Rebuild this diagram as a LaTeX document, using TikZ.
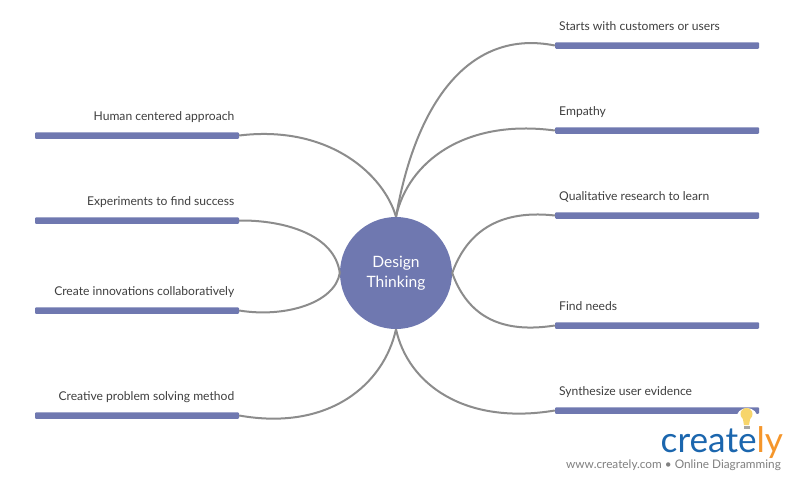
\documentclass[tikz,border=0pt]{standalone}
\usepackage{fontspec}
\setmainfont{Lato}
\definecolor{barc}{HTML}{6F78B0}
\definecolor{linec}{HTML}{8C8C8C}
\definecolor{textc}{HTML}{3F3F3F}
\definecolor{logob}{HTML}{1B66AE}
\definecolor{logoo}{HTML}{F5962B}
\definecolor{bulb}{HTML}{F7D56B}
\tikzset{
  barbox/.style={fill=barc,rounded corners=1pt,minimum width=204pt,minimum height=6.5pt,inner sep=0pt,draw=none},
  lab/.style={font=\fontsize{12.1}{13}\selectfont,text=textc,inner sep=0pt},
  lableft/.style={lab,anchor=base east},
  labright/.style={lab,anchor=base west},
  conn/.style={draw=linec,line width=2pt},
}
\begin{document}
\begin{tikzpicture}[x=1pt,y=-1pt]
\useasboundingbox (0,0) rectangle (795,480);
\fill[white] (0,0) rectangle (795,480);
% bars
\node[barbox] (r1) at (657,45.5) {};
\node[barbox] (r2) at (657,130.5) {};
\node[barbox] (r3) at (657,215.5) {};
\node[barbox] (r4) at (657,325.5) {};
\node[barbox] (r5) at (657,410.5) {};
\node[barbox] (l1) at (137,135.5) {};
\node[barbox] (l2) at (137,220.5) {};
\node[barbox] (l3) at (137,310.5) {};
\node[barbox] (l4) at (137,415.5) {};
% connectors
\path (r1.west) coordinate (r1w) (r2.west) coordinate (r2w) (r3.west) coordinate (r3w) (r4.west) coordinate (r4w) (r5.west) coordinate (r5w);
% hub
\node[circle,fill=barc,minimum size=112pt,inner sep=0pt,text=white,align=center,font=\fontsize{15.6}{20.5}\selectfont] (hub) at (396,273) {\raisebox{-1.5pt}{\shortstack{Design\\[3.2pt]Thinking}}};
\draw[conn] (r1w) .. controls +(-85,-17) and +(20,-115) .. (hub.north);
\draw[conn] (r2w) .. controls +(-90,-12) and +(12,-55) .. (hub.north);
\draw[conn] (r3w) .. controls +(-45,-5) and +(18,-50) .. (hub.east);
\draw[conn] (r4w) .. controls +(-45,7) and +(18,50) .. (hub.east);
\draw[conn] (r5w) .. controls +(-90,15) and +(12,55) .. (hub.south);
\draw[conn] (l1.east) .. controls +(90,-11) and +(-12,-42) .. (hub.north);
\draw[conn] (l2.east) .. controls +(46,-0.5) and +(-5,-38) .. (hub.west);
\draw[conn] (l3.east) .. controls +(46,7.5) and +(-5,30) .. (hub.west);
\draw[conn] (l4.east) .. controls +(90,16) and +(-12,55) .. (hub.south);
% labels
\node[labright] (tr1) at (559,30) {Starts with customers or users};
\node[labright] (tr2) at (559,115) {Empathy};
\node[labright] (tr3) at (559,200) {Qualitative research to learn};
\node[labright] (tr4) at (559,310) {Find needs};
\node[labright] (tr5) at (559,395) {Synthesize user evidence};
\node[lableft] (tl1) at (234.5,120) {Human centered approach};
\node[lableft] (tl2) at (234.5,205) {Experiments to find success};
\node[lableft] (tl3) at (234.5,295) {Create innovations collaboratively};
\node[lableft] (tl4) at (234.5,400) {Creative problem solving method};
% logo
\fill[white] (747,419) circle (11);
\node[inner sep=0pt,anchor=base west,font=\fontsize{35.2}{36}\selectfont,text=logob] (logo) at (660.5,452) {creat\textcolor{logob}{e}\textcolor{logoo}{ly}};
\fill[bulb] (746.5,414) circle (6) ;
\fill[bulb] (742.5,417) -- (750.5,417) -- (749,425) -- (744,425) -- cycle;
\fill[gray!70] (743.5,426) rectangle (749.5,429);
\node[inner sep=0pt,anchor=base east,font=\fontsize{11.8}{13}\selectfont,text=gray] (site) at (781,468) {www.creately.com • Online Diagramming};
\end{tikzpicture}
\end{document}
